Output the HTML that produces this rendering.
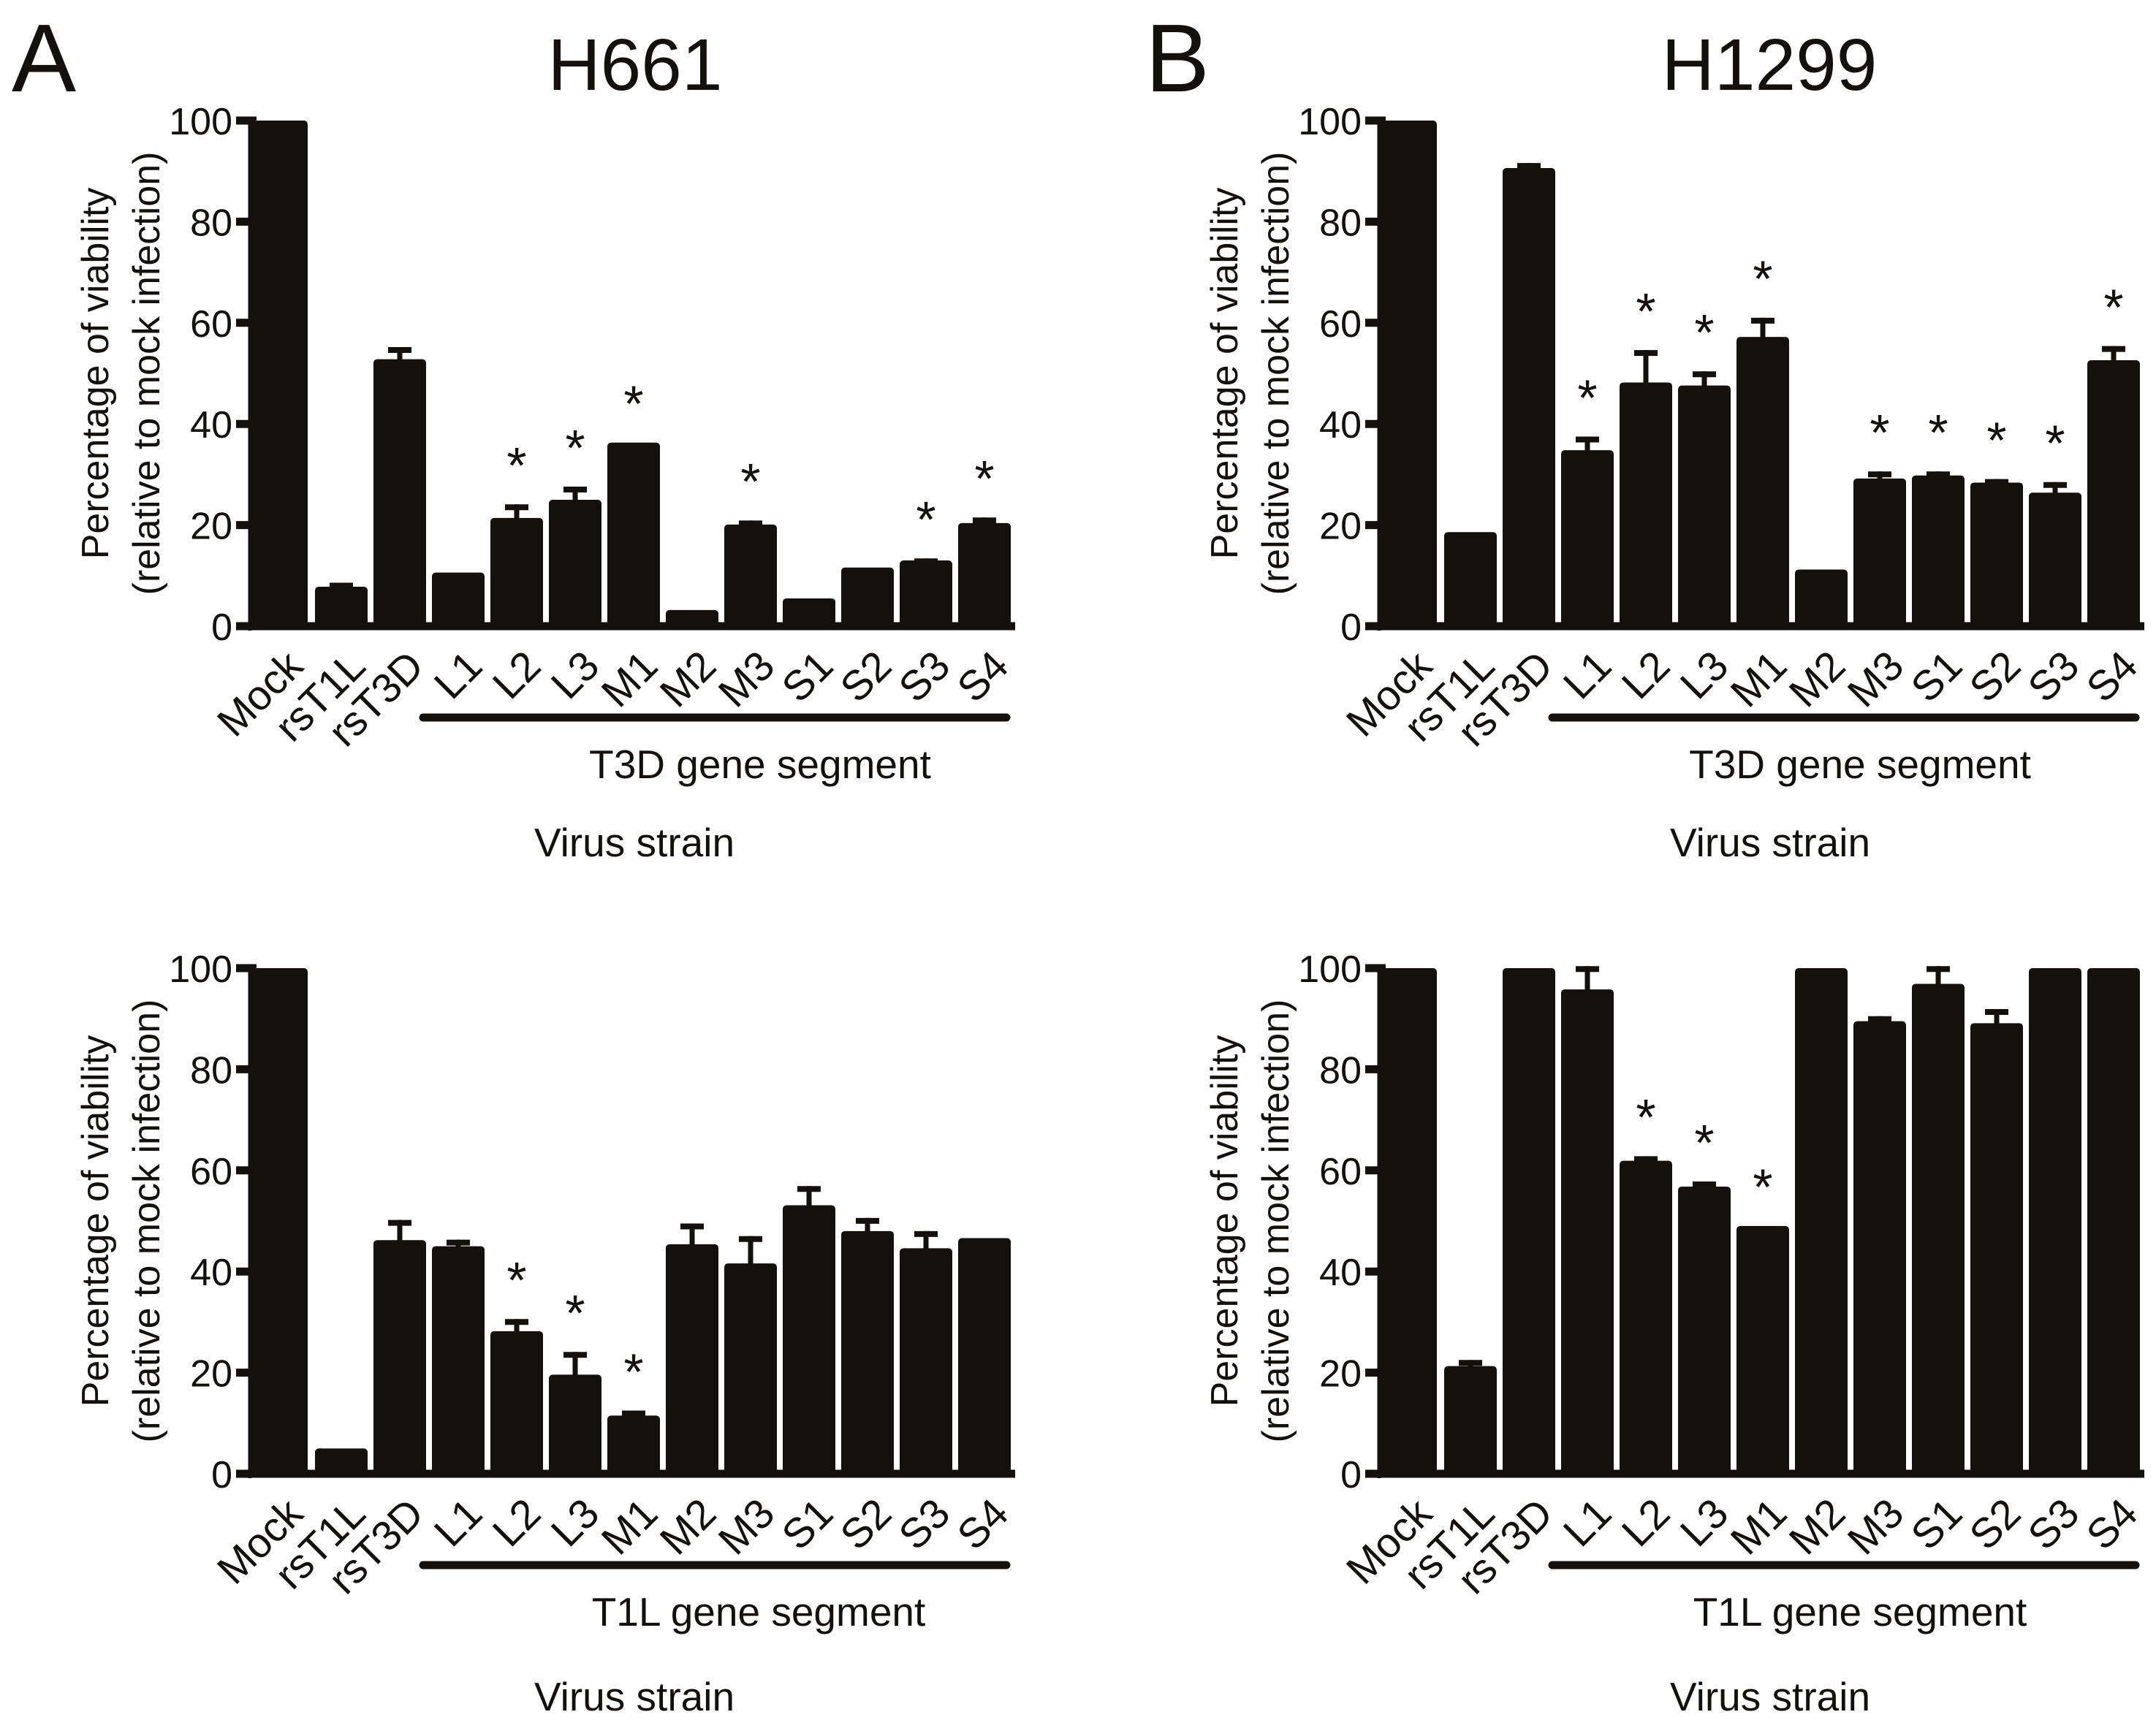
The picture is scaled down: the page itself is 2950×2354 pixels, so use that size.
<!DOCTYPE html>
<html><head><meta charset="utf-8">
<style>
html,body{margin:0;padding:0;background:#fff;}
svg{display:block;font-family:"Liberation Sans",Arial,sans-serif;}
</style></head>
<body>
<svg id="fig" width="2950" height="2354" viewBox="0 0 2950 2354" xmlns="http://www.w3.org/2000/svg">
<rect width="2950" height="2354" fill="#fff"/>
<text x="16" y="125" font-size="132" fill="#14110d">A</text>
<text x="1567" y="125" font-size="132" fill="#14110d">B</text>
<text x="869" y="123" font-size="100" text-anchor="middle" fill="#14110d">H661</text>
<text x="2421" y="123" font-size="100" text-anchor="middle" fill="#14110d">H1299</text>
</svg>
<script>
const categories = ["Mock","rsT1L","rsT3D","L1","L2","L3","M1","M2","M3","S1","S2","S3","S4"];
const yTicks = [0,20,40,60,80,100];
const h661T3DValues = [100,7.8,52.8,10.6,21.4,25.0,36.3,3.2,20.1,5.5,11.6,13.0,20.4];
const h661T3DErrors = [0,0.8,2.4,0,2.7,2.6,0,0,0.8,0,0,0.4,1.1];
const h661T3DStars  = [0,0,0,0,1,1,1,0,1,0,0,1,1];
const h661T1LValues = [100,5.0,46.2,45.0,28.2,19.6,11.5,45.4,41.6,53.1,48.0,44.6,46.6];
const h661T1LErrors = [0,0,4.0,1.3,2.4,4.5,1.0,4.1,5.4,3.8,2.6,3.4,0];
const h661T1LStars  = [0,0,0,0,1,1,1,0,0,0,0,0,0];
const h1299T3DValues = [100,18.6,90.6,34.8,48.2,47.6,57.2,11.2,29.2,29.8,28.4,26.4,52.6];
const h1299T3DErrors = [0,0,1.0,2.7,6.4,2.8,3.8,0,1.4,0.8,0.7,2.1,2.8];
const h1299T3DStars  = [0,0,0,1,1,1,1,0,1,1,1,1,1];
const h1299T1LValues = [100,21.3,100,95.8,61.9,56.8,49.0,100,89.5,96.9,89.1,100,100];
const h1299T1LErrors = [0,1.2,0,4.6,0.9,1.0,0,0,1.0,3.5,2.8,0,0];
const h1299T1LStars  = [0,0,0,0,1,1,1,0,0,0,0,0,0];

const NS = "http://www.w3.org/2000/svg";
const svg = document.getElementById('fig');
const INK = "#14110d";
function mk(tag, attrs){ const e=document.createElementNS(NS,tag); for(const k in attrs) e.setAttribute(k,attrs[k]); return e; }

function panel(p){
  const g = mk('g',{});
  
  
  svg.appendChild(g);
  const ax = p.axisX, y0 = p.axisY, y100 = p.axisY - 692;
  const yS = v => y0 - (v/100)*(y0 - y100);
  const barLeft = i => i===0 ? ax : ax + 89 + (i-1)*80;
  const barW = i => i===0 ? 79 : 72;
  const axisEnd = barLeft(12) + 72 + 6;
  p.values.forEach((v,i)=>{
    const x=barLeft(i), w=barW(i);
    if(p.errors[i]>0){
      const cx = x + w/2;
      const eTop = yS(v + p.errors[i]);
      const el = mk('line',{x1:cx,x2:cx,y1:yS(v)+2,y2:eTop,stroke:INK,'stroke-width':7});
      
      
      g.appendChild(el);
      const cap = mk('line',{x1:cx-16,x2:cx+16,y1:eTop+4,y2:eTop+4,stroke:INK,'stroke-width':8});
      
      
      g.appendChild(cap);
    }
    const r = mk('rect',{x:x,y:yS(v),width:w,height:y0-yS(v),rx:5,fill:INK});
    
    
    g.appendChild(r);
    if(p.stars[i]){
      const top = v + p.errors[i];
      const s = mk('text',{x:x+w/2,y:yS(top+10)+40,'font-size':70,'text-anchor':'middle',fill:INK});
      s.textContent='*';
      
      
      g.appendChild(s);
    }
    const lx = x + w/2 + 36, ly = y0 + 58;
    const t = mk('text',{x:lx,y:ly,'font-size':57,'text-anchor':'end',fill:INK,transform:`rotate(-45 ${lx} ${ly})`});
    t.textContent = categories[i];
    
    
    g.appendChild(t);
  });
  const ya = mk('line',{x1:ax,x2:ax,y1:y100-5,y2:y0+6,stroke:INK,'stroke-width':5});
  
  
  g.appendChild(ya);
  const xa = mk('line',{x1:ax-19,x2:axisEnd,y1:y0,y2:y0,stroke:INK,'stroke-width':11});
  
  
  g.appendChild(xa);
  yTicks.forEach(t=>{
    const yy = yS(t);
    const tk = mk('line',{x1:ax-19,x2:ax+(t===100?9:0),y1:yy,y2:yy,stroke:INK,'stroke-width':11});
    
    
    g.appendChild(tk);
    const tl = mk('text',{x:ax-24,y:yy+19,'font-size':52,'text-anchor':'end',fill:INK});
    tl.textContent = String(t);
    
    
    g.appendChild(tl);
  });
  const cy = (y0 + y100)/2;
  const t1x = ax-194, t2x = ax-124;
  const yt1 = mk('text',{x:t1x,y:cy,'font-size':52,'text-anchor':'middle',fill:INK,transform:`rotate(-90 ${t1x} ${cy})`});
  yt1.textContent = 'Percentage of viability';
  
  
  g.appendChild(yt1);
  const yt2 = mk('text',{x:t2x,y:cy,'font-size':52,'text-anchor':'middle',fill:INK,transform:`rotate(-90 ${t2x} ${cy})`});
  yt2.textContent = '(relative to mock infection)';
  
  
  g.appendChild(yt2);
  const sl = mk('line',{x1:barLeft(3)-12,x2:barLeft(12)+72-6,y1:y0+125,y2:y0+125,stroke:INK,'stroke-width':11,'stroke-linecap':'round'});
  
  
  g.appendChild(sl);
  const gl = mk('text',{x:p.segX,y:y0+208,'font-size':55,'text-anchor':'middle',fill:INK});
  gl.textContent = p.segLabel;
  
  
  g.appendChild(gl);
  const vl = mk('text',{x:p.vsX,y:y0+p.vsDy,'font-size':55,'text-anchor':'middle',fill:INK});
  vl.textContent = 'Virus strain';
  
  
  g.appendChild(vl);
}

panel({name:'panel-h661-t3d',axisX:342,axisY:857,values:h661T3DValues,errors:h661T3DErrors,stars:h661T3DStars,segLabel:'T3D gene segment',segX:1040,vsX:868,vsDy:315});
panel({name:'panel-h661-t1l',axisX:342,axisY:2017,values:h661T1LValues,errors:h661T1LErrors,stars:h661T1LStars,segLabel:'T1L gene segment',segX:1038,vsX:868,vsDy:324});
panel({name:'panel-h1299-t3d',axisX:1887,axisY:857,values:h1299T3DValues,errors:h1299T3DErrors,stars:h1299T3DStars,segLabel:'T3D gene segment',segX:2545,vsX:2422,vsDy:315});
panel({name:'panel-h1299-t1l',axisX:1887,axisY:2017,values:h1299T1LValues,errors:h1299T1LErrors,stars:h1299T1LStars,segLabel:'T1L gene segment',segX:2545,vsX:2422,vsDy:324});
</script>
</body></html>
